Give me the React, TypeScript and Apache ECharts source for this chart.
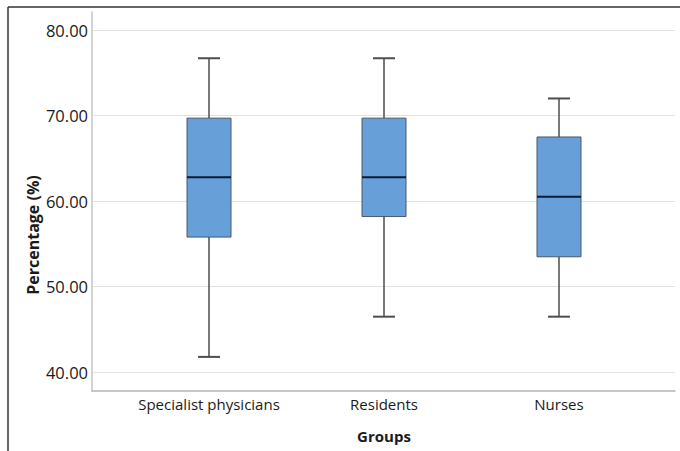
import React, { useEffect, useRef } from "react";
import * as echarts from "echarts";

const categories = ["Specialist physicians", "Residents", "Nurses"];
// [min, Q1, median, Q3, max]
const boxValues = [
  [41.8, 55.8, 62.8, 69.7, 76.7],
  [46.5, 58.2, 62.8, 69.7, 76.7],
  [46.5, 53.5, 60.5, 67.5, 72.0],
];
const yTicks = [40, 50, 60, 70, 80];
const yAxisTitle = "Percentage (%)";
const xAxisTitle = "Groups";

const FONT = "'Open Sans', 'Noto Sans', sans-serif";

export default function App() {
  const ref = useRef<HTMLDivElement>(null);
  useEffect(() => {
    if (!ref.current) return;
    const chart = echarts.init(ref.current, null, { renderer: "svg" });
    const data = boxValues.map((v, i) => [i, ...v]);
    const yMin = yTicks[0];
    const yMax = yTicks[yTicks.length - 1];
    const option: any = {
      animation: false,
      backgroundColor: "#ffffff",
      textStyle: { fontFamily: FONT },
      grid: [
        { left: 92, right: 5, top: 12, bottom: 60 },
        { left: 92, right: 5, top: 30, bottom: 78.7 },
        { left: 121.5, right: 33.5, top: 30, bottom: 78.7 },
      ],
      xAxis: [
        {
          gridIndex: 0, type: "value", min: 0, max: 1,
          axisLine: { show: true, lineStyle: { color: "#b4b4b4", width: 1.5 } },
          axisTick: { show: false }, axisLabel: { show: false }, splitLine: { show: false },
        },
        {
          gridIndex: 1, type: "value", min: 0, max: 1, show: false,
        },
        {
          gridIndex: 2, type: "category", data: categories,
          axisLine: { show: false }, axisTick: { show: false }, splitLine: { show: false },
          axisLabel: { color: "#1a1a1a", fontSize: 15, margin: 24, interval: 0, hideOverlap: false, fontFamily: FONT },
          name: xAxisTitle, nameLocation: "middle", nameGap: 56,
          nameTextStyle: { color: "#1a1a1a", fontSize: 15, fontWeight: "bold", fontFamily: FONT },
        },
      ],
      yAxis: [
        {
          gridIndex: 0, type: "value", min: 0, max: 1,
          axisLine: { show: true, lineStyle: { color: "#c4c4c4", width: 1.5 } },
          axisTick: { show: false }, axisLabel: { show: false }, splitLine: { show: false },
        },
        {
          gridIndex: 1, type: "value", min: yMin, max: yMax, interval: 10,
          axisLine: { show: false }, axisTick: { show: false },
          axisLabel: {
            color: "#1a1a1a", fontSize: 16.5, margin: 4, fontFamily: FONT,
            formatter: (v: number) => v.toFixed(2),
          },
          splitLine: { show: true, lineStyle: { color: "#e2e2e2", width: 1.2 } },
        },
        {
          gridIndex: 2, type: "value", min: yMin, max: yMax, show: false,
        },
      ],
      series: [
        {
          type: "custom",
          xAxisIndex: 2,
          yAxisIndex: 2,
          data,
          encode: { x: 0, y: [1, 2, 3, 4, 5] },
          renderItem: (params: any, api: any) => {
            const idx = api.value(0);
            const pMin = api.coord([idx, api.value(1)]);
            const pQ1 = api.coord([idx, api.value(2)]);
            const pMed = api.coord([idx, api.value(3)]);
            const pQ3 = api.coord([idx, api.value(4)]);
            const pMax = api.coord([idx, api.value(5)]);
            const cx = pMed[0];
            const bw = 44;
            const cw = 22;
            const wStyle = { stroke: "#4d4d4d", lineWidth: 1.5 };
            return {
              type: "group",
              children: [
                { type: "line", shape: { x1: cx, y1: pMax[1], x2: cx, y2: pQ3[1] }, style: wStyle },
                { type: "line", shape: { x1: cx, y1: pQ1[1], x2: cx, y2: pMin[1] }, style: wStyle },
                { type: "line", shape: { x1: cx - cw / 2, y1: pMax[1], x2: cx + cw / 2, y2: pMax[1] }, style: { stroke: "#4d4d4d", lineWidth: 2 } },
                { type: "line", shape: { x1: cx - cw / 2, y1: pMin[1], x2: cx + cw / 2, y2: pMin[1] }, style: { stroke: "#4d4d4d", lineWidth: 2 } },
                {
                  type: "rect",
                  shape: { x: cx - bw / 2, y: pQ3[1], width: bw, height: pQ1[1] - pQ3[1] },
                  style: { fill: "#679fd8", stroke: "#4a5866", lineWidth: 1 },
                },
                { type: "line", shape: { x1: cx - bw / 2, y1: pMed[1], x2: cx + bw / 2, y2: pMed[1] }, style: { stroke: "#0b1a38", lineWidth: 2 } },
              ],
            };
          },
        },
      ],
      graphic: [
        { type: "line", shape: { x1: 8, y1: 7, x2: 680, y2: 7 }, style: { stroke: "#333333", lineWidth: 1.5 } },
        { type: "line", shape: { x1: 8, y1: 7, x2: 8, y2: 451 }, style: { stroke: "#333333", lineWidth: 1.5 } },
        {
          type: "text",
          x: 33,
          y: 235,
          rotation: Math.PI / 2,
          style: {
            text: yAxisTitle,
            fill: "#1a1a1a",
            font: `bold 16px ${FONT}`,
            textAlign: "center",
            textVerticalAlign: "middle",
          },
        },
      ],
    };
    chart.setOption(option);
    return () => chart.dispose();
  }, []);
  return (
    <div
      ref={ref}
      style={{ position: "fixed", left: 0, top: 0, width: 680, height: 451 }}
    />
  );
}
